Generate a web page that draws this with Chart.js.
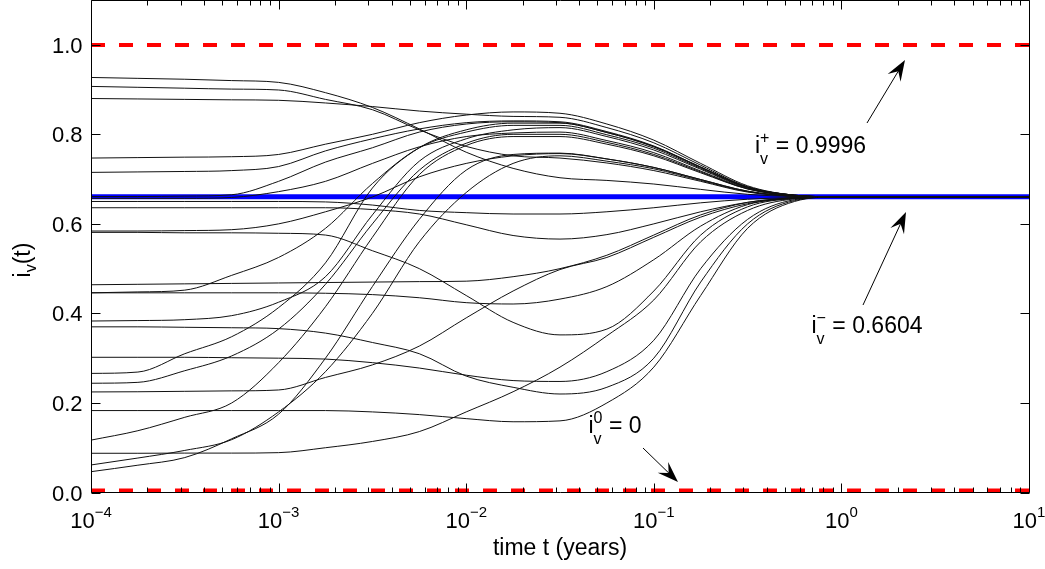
<!DOCTYPE html>
<html>
<head>
<meta charset="utf-8">
<script src="https://cdn.jsdelivr.net/npm/chart.js@4.4.0/dist/chart.umd.min.js"></script>
<style>
  html, body { margin: 0; padding: 0; background: #fff; }
  #chart { display: block; }
</style>
</head>
<body>
<canvas id="chart" width="1045" height="569"></canvas>
<script>
// time samples (years), log-spaced by a quarter decade up to 1, then 10
const times = [1e-4, 1.778e-4, 3.162e-4, 5.623e-4, 1e-3, 1.778e-3, 3.162e-3, 5.623e-3,
    1e-2, 1.778e-2, 3.162e-2, 5.623e-2, 0.1, 0.1778, 0.3162, 0.5623, 1, 10];

// trajectories i_v(t)
const curves = [
    [0.927, 0.925, 0.923, 0.920, 0.916, 0.893, 0.860, 0.812, 0.760, 0.724, 0.703, 0.697, 0.689, 0.677, 0.666, 0.661, 0.6604, 0.6604],
    [0.907, 0.905, 0.903, 0.901, 0.899, 0.878, 0.855, 0.810, 0.773, 0.752, 0.747, 0.736, 0.719, 0.695, 0.671, 0.662, 0.6604, 0.6604],
    [0.880, 0.879, 0.878, 0.877, 0.876, 0.870, 0.862, 0.852, 0.845, 0.840, 0.838, 0.815, 0.781, 0.731, 0.683, 0.664, 0.6604, 0.6604],
    [0.747, 0.748, 0.749, 0.750, 0.755, 0.778, 0.800, 0.826, 0.843, 0.850, 0.847, 0.823, 0.787, 0.735, 0.685, 0.664, 0.6604, 0.6604],
    [0.715, 0.716, 0.717, 0.719, 0.728, 0.763, 0.790, 0.812, 0.826, 0.830, 0.828, 0.806, 0.774, 0.727, 0.682, 0.664, 0.6604, 0.6604],
    [0.661, 0.661, 0.662, 0.665, 0.695, 0.738, 0.770, 0.805, 0.823, 0.828, 0.826, 0.804, 0.773, 0.727, 0.682, 0.664, 0.6604, 0.6604],
    [0.657, 0.657, 0.657, 0.659, 0.672, 0.695, 0.735, 0.772, 0.795, 0.803, 0.805, 0.786, 0.759, 0.718, 0.679, 0.663, 0.6604, 0.6604],
    [0.584, 0.584, 0.585, 0.587, 0.600, 0.627, 0.660, 0.705, 0.735, 0.752, 0.757, 0.745, 0.726, 0.699, 0.673, 0.662, 0.6604, 0.6604],
    [0.446, 0.448, 0.452, 0.485, 0.525, 0.590, 0.690, 0.770, 0.805, 0.820, 0.820, 0.799, 0.769, 0.724, 0.681, 0.663, 0.6604, 0.6604],
    [0.383, 0.384, 0.386, 0.395, 0.425, 0.482, 0.620, 0.740, 0.790, 0.810, 0.815, 0.795, 0.765, 0.722, 0.680, 0.663, 0.6604, 0.6604],
    [0.266, 0.269, 0.310, 0.348, 0.413, 0.513, 0.680, 0.770, 0.810, 0.825, 0.825, 0.804, 0.772, 0.726, 0.682, 0.664, 0.6604, 0.6604],
    [0.244, 0.246, 0.272, 0.305, 0.365, 0.465, 0.600, 0.720, 0.780, 0.800, 0.800, 0.782, 0.755, 0.716, 0.678, 0.663, 0.6604, 0.6604],
    [0.117, 0.138, 0.168, 0.200, 0.290, 0.415, 0.570, 0.710, 0.775, 0.795, 0.795, 0.778, 0.752, 0.714, 0.678, 0.663, 0.6604, 0.6604],
    [0.0615, 0.077, 0.094, 0.118, 0.180, 0.270, 0.400, 0.560, 0.670, 0.735, 0.752, 0.740, 0.723, 0.697, 0.672, 0.662, 0.6604, 0.6604],
    [0.0465, 0.061, 0.078, 0.120, 0.175, 0.300, 0.460, 0.610, 0.720, 0.755, 0.758, 0.745, 0.726, 0.699, 0.673, 0.662, 0.6604, 0.6604],
    [0.650, 0.650, 0.650, 0.650, 0.650, 0.649, 0.642, 0.630, 0.625, 0.622, 0.622, 0.627, 0.636, 0.647, 0.655, 0.659, 0.6604, 0.6604],
    [0.636, 0.636, 0.636, 0.636, 0.636, 0.636, 0.632, 0.622, 0.598, 0.574, 0.566, 0.576, 0.600, 0.627, 0.648, 0.658, 0.6604, 0.6604],
    [0.581, 0.581, 0.580, 0.580, 0.579, 0.575, 0.540, 0.500, 0.440, 0.380, 0.352, 0.365, 0.450, 0.575, 0.638, 0.657, 0.6604, 0.6604],
    [0.464, 0.465, 0.466, 0.467, 0.468, 0.469, 0.470, 0.471, 0.472, 0.482, 0.500, 0.530, 0.575, 0.620, 0.648, 0.658, 0.6604, 0.6604],
    [0.446, 0.446, 0.446, 0.446, 0.446, 0.445, 0.442, 0.435, 0.424, 0.421, 0.432, 0.460, 0.520, 0.595, 0.643, 0.657, 0.6604, 0.6604],
    [0.370, 0.370, 0.369, 0.368, 0.366, 0.356, 0.335, 0.310, 0.260, 0.235, 0.220, 0.235, 0.300, 0.470, 0.600, 0.652, 0.6604, 0.6604],
    [0.302, 0.302, 0.302, 0.301, 0.300, 0.298, 0.290, 0.278, 0.262, 0.250, 0.248, 0.270, 0.340, 0.500, 0.610, 0.654, 0.6604, 0.6604],
    [0.2246, 0.225, 0.226, 0.227, 0.229, 0.257, 0.285, 0.327, 0.390, 0.450, 0.498, 0.525, 0.570, 0.615, 0.645, 0.658, 0.6604, 0.6604],
    [0.183, 0.183, 0.183, 0.183, 0.183, 0.183, 0.180, 0.174, 0.165, 0.158, 0.160, 0.200, 0.280, 0.440, 0.590, 0.650, 0.6604, 0.6604],
    [0.0876, 0.0876, 0.088, 0.088, 0.089, 0.100, 0.114, 0.136, 0.180, 0.225, 0.280, 0.350, 0.430, 0.560, 0.630, 0.656, 0.6604, 0.6604],
];

// fixed points
const iPlus = 0.9996;
const iMinus = 0.6604;
const iZero = 0;
const tRange = [1e-4, 10];

const yTicks = [0, 0.2, 0.4, 0.6, 0.8, 1.0];
const xExps = [-4, -3, -2, -1, 0, 1];

const FONT = '"Liberation Sans", Arial, Helvetica, sans-serif';

const toPoints = (vals) => times.map((t, i) => ({ x: t, y: vals[i] }));
const hline = (v) => tRange.map((t) => ({ x: t, y: v }));

const datasets = curves.map((c) => ({
    data: toPoints(c),
    borderColor: "#111",
    borderWidth: 1,
    clip: 0,
}));
datasets.push({ data: hline(iPlus), borderColor: "#ff0000", borderWidth: 4, borderDash: [14, 14], clip: 0 });
// lower half is clipped by the plot frame, so only the part above the axis shows
datasets.push({ data: hline(iZero), borderColor: "#ff0000", borderWidth: 8, borderDash: [14, 14], clip: 0 });
datasets.push({ data: hline(iMinus), borderColor: "#0000ff", borderWidth: 5, clip: 0 });

function scriptText(ctx, x, y, base, sup, sub, rest) {
    ctx.font = `23px ${FONT}`;
    ctx.fillText(base, x, y);
    let cx = x + ctx.measureText(base).width;
    ctx.font = `16px ${FONT}`;
    let w = 0;
    if (sup) { ctx.fillText(sup, cx, y - 10.5); w = Math.max(w, ctx.measureText(sup).width); }
    if (sub) { ctx.fillText(sub, cx, y + 10.5); w = Math.max(w, ctx.measureText(sub).width); }
    cx += w;
    if (rest) {
        ctx.font = `23px ${FONT}`;
        ctx.fillText(rest, cx, y);
    }
}

function arrow(ctx, x0, y0, x1, y1) {
    const ang = Math.atan2(y1 - y0, x1 - x0);
    ctx.beginPath();
    ctx.moveTo(x0, y0);
    ctx.lineTo(x1 - Math.cos(ang) * 12, y1 - Math.sin(ang) * 12);
    ctx.stroke();
    ctx.save();
    ctx.translate(x1, y1);
    ctx.rotate(ang);
    ctx.beginPath();
    ctx.moveTo(0, 0);
    ctx.lineTo(-21, -7.5);
    ctx.lineTo(-13, 0);
    ctx.lineTo(-21, 7.5);
    ctx.closePath();
    ctx.fill();
    ctx.restore();
}

const frame = {
    id: "frame",
    afterDraw(chart) {
        const { ctx, chartArea: a, scales } = chart;
        const xs = scales.x, ys = scales.y;
        const L = Math.round(a.left) + 0.5, R = Math.round(a.right) + 0.5;
        const T = Math.round(a.top) + 0.5, B = Math.round(a.bottom) - 0.5;
        ctx.save();
        ctx.strokeStyle = "#000";
        ctx.fillStyle = "#000";
        ctx.lineWidth = 1;
        ctx.beginPath();
        ctx.rect(L, T, R - L, B - T);
        ctx.stroke();

        // y ticks + labels
        ctx.font = `22px ${FONT}`;
        ctx.textAlign = "right";
        ctx.textBaseline = "middle";
        yTicks.forEach((v) => {
            const py = Math.round(ys.getPixelForValue(v)) + 0.5;
            ctx.beginPath();
            ctx.moveTo(L, py); ctx.lineTo(L + 9, py);
            ctx.moveTo(R, py); ctx.lineTo(R - 9, py);
            ctx.stroke();
            ctx.fillText(v.toFixed(1), L - 9, py + 1);
        });

        // x ticks, major and minor
        ctx.beginPath();
        xExps.forEach((e, i) => {
            const px = Math.round(xs.getPixelForValue(Math.pow(10, e))) + 0.5;
            ctx.moveTo(px, B); ctx.lineTo(px, B - 9);
            ctx.moveTo(px, T); ctx.lineTo(px, T + 9);
            if (i < xExps.length - 1) {
                for (let k = 2; k <= 9; k++) {
                    const qx = Math.round(xs.getPixelForValue(k * Math.pow(10, e))) + 0.5;
                    ctx.moveTo(qx, B); ctx.lineTo(qx, B - 5);
                    ctx.moveTo(qx, T); ctx.lineTo(qx, T + 5);
                }
            }
        });
        ctx.stroke();

        // x tick labels 10^e
        ctx.textAlign = "left";
        ctx.textBaseline = "alphabetic";
        xExps.forEach((e) => {
            const px = xs.getPixelForValue(Math.pow(10, e));
            const ex = String(e).replace("-", "\u2212");
            ctx.font = `22px ${FONT}`;
            const bw = ctx.measureText("10").width;
            ctx.font = `15px ${FONT}`;
            const ew = ctx.measureText(ex).width;
            const x0 = px - (bw + ew) / 2;
            ctx.font = `22px ${FONT}`;
            ctx.fillText("10", x0, 528);
            ctx.font = `15px ${FONT}`;
            ctx.fillText(ex, x0 + bw, 517);
        });

        // axis titles
        ctx.font = `23px ${FONT}`;
        ctx.textAlign = "center";
        ctx.fillText("time t (years)", (a.left + a.right) / 2, 555);

        ctx.save();
        ctx.translate(30, 260);
        ctx.rotate(-Math.PI / 2);
        ctx.textAlign = "left";
        ctx.font = `23px ${FONT}`;
        const wi = ctx.measureText("i").width, wt = ctx.measureText("(t)").width;
        ctx.font = `16px ${FONT}`;
        const wv = ctx.measureText("v").width;
        const sx = -(wi + wv + wt) / 2;
        ctx.font = `23px ${FONT}`;
        ctx.fillText("i", sx, 0);
        ctx.font = `16px ${FONT}`;
        ctx.fillText("v", sx + wi, 6);
        ctx.font = `23px ${FONT}`;
        ctx.fillText("(t)", sx + wi + wv, 0);
        ctx.restore();

        // annotations
        ctx.textAlign = "left";
        scriptText(ctx, 755, 153, "i", "+", "v", " = " + iPlus.toFixed(4));
        scriptText(ctx, 811.5, 333, "i", "\u2212", "v", " = " + iMinus.toFixed(4));
        scriptText(ctx, 588.5, 433, "i", "0", "v", " = " + iZero);

        arrow(ctx, 867, 123, 905, 60);
        arrow(ctx, 863, 305, 906, 212);
        arrow(ctx, 643, 448, 678, 482);
        ctx.restore();
    },
};

new Chart(document.getElementById("chart"), {
    type: "line",
    data: { datasets: datasets },
    options: {
        responsive: false,
        animation: false,
        layout: { padding: { left: 91, right: 16, top: 0, bottom: 76.5 } },
        elements: {
            point: { radius: 0 },
            line: { cubicInterpolationMode: "monotone", fill: false },
        },
        scales: {
            x: { type: "logarithmic", min: tRange[0], max: tRange[1], display: false },
            y: { type: "linear", min: 0, max: 1.1, display: false },
        },
        plugins: {
            legend: { display: false },
            tooltip: { enabled: false },
        },
    },
    plugins: [frame],
});
</script>
</body>
</html>
